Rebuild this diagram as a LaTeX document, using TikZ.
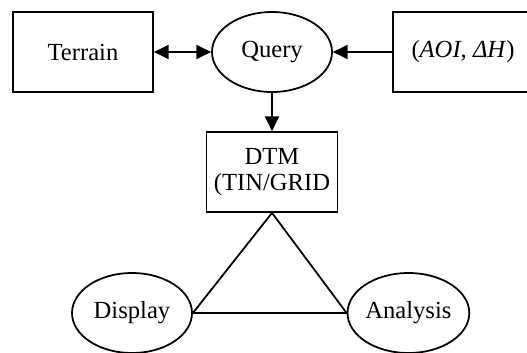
\documentclass[tikz,border=0pt]{standalone}
\usepackage{fontspec}
\setmainfont{Liberation Serif}
\usetikzlibrary{shapes.geometric}
\usetikzlibrary{arrows.meta}

\begin{document}
\begin{tikzpicture}[
    box/.style={draw,line width=1.25pt,rectangle,minimum width=3.5cm,minimum height=2cm,inner sep=0pt,font=\fontsize{17.5}{19}\selectfont},
    oval/.style={draw,line width=1.25pt,ellipse,minimum width=3cm,minimum height=2cm,inner sep=0pt,font=\fontsize{17.5}{19}\selectfont},
    link/.style={line width=1.25pt},
    tip/.style={-{Triangle[length=10.5pt,width=10pt]},line width=1.25pt}]
    \useasboundingbox (0,0) rectangle (13.175,-8.8);
    \node[box] (terrain) at (2.075,-1.3) {Terrain};
    \node[oval] (query) at (6.8,-1.3) {Query};
    \node[box] (aoi) at (11.575,-1.3) {(\textit{AOI}, \textit{ΔH})};
    \node[box,minimum width=3.275cm,align=center] (dtm) at (6.8,-4.3) {DTM\\(TIN/GRID};
    \node[oval] (display) at (3.3,-7.825) {Display};
    \node[oval] (analysis) at (10.21,-7.825) {Analysis};
    \draw[tip,{Triangle[length=10.5pt,width=10pt]}-{Triangle[length=10.5pt,width=10pt]}] (terrain) -- (query);
    \draw[tip] (aoi) -- (query);
    \draw[tip] (query) -- (dtm);
    \draw[link] (display.east) -- (dtm.south) -- (analysis.west) -- cycle;
\end{tikzpicture}
\end{document}
